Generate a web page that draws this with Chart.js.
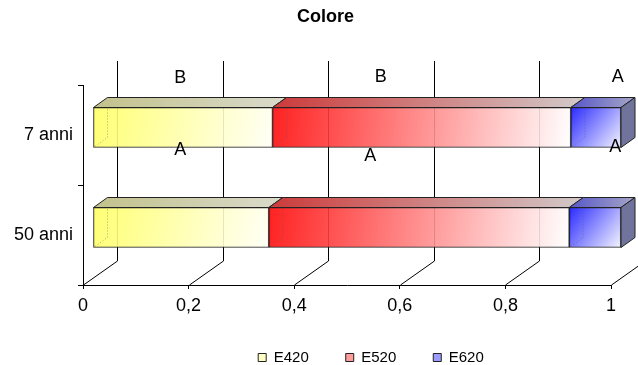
<!DOCTYPE html>
<html lang="it">
<head>
    <meta charset="UTF-8">
    <title>Colore</title>
    <script src="https://cdn.jsdelivr.net/npm/chart.js"></script>
    <style>
        body { margin: 0; background: #fff; }
        .container { width: 638px; height: 365px; }
    </style>
</head>
<body>
<div class="container">
    <canvas id="coloreChart"></canvas>
</div>

<script>
    const categories = ['7 anni', '50 anni'];
    const seriesNames = ['E420', 'E520', 'E620'];
    const e420 = [0.34, 0.333];
    const e520 = [0.565, 0.569];
    const e620 = [0.095, 0.098];
    const xTicks = [0, 0.2, 0.4, 0.6, 0.8, 1];
    // significance letters, one per series
    const letters7 = ['B', 'B', 'A'];
    const letters50 = ['A', 'A', 'A'];

    const FONT = '"Liberation Sans", Arial, sans-serif';
    const FLOOR = { dx: 34, dy: -24 };     // depth of the floor / back wall
    const SHIFT = { dx: 10, dy: -7.5 };    // bars sit a bit behind the front edge
    const BAR = { dx: 14, dy: -10 };       // depth of each bar box

    const faceColors = [
        ['rgba(255,255,100,0.9)', 'rgba(255,255,246,0.9)'],
        ['rgba(255,10,10,0.9)', 'rgba(255,255,255,0.9)'],
        ['rgba(20,20,255,0.9)', 'rgba(244,244,255,0.9)']
    ];
    const topColors = [
        ['#c2c28c', '#dadacc'],
        ['#cc3a3a', '#d2caca'],
        ['#5656c8', '#a6a6c8']
    ];
    const legendFill = ['#ffffc4', '#ff9c9c', '#9c9cff'];

    // diagonal gradient over the front face of one stacked segment
    function faceFill(c) {
        const chart = c.chart;
        const i = c.datasetIndex;
        if (!chart.chartArea || c.dataIndex === undefined) return legendFill[i];
        const x = chart.scales.x, y = chart.scales.y;
        const sets = chart.data.datasets;
        let start = 0;
        for (let k = 0; k < i; k++) start += sets[k].data[c.dataIndex];
        const x0 = x.getPixelForValue(start);
        const x1 = x.getPixelForValue(start + sets[i].data[c.dataIndex]);
        const yc = y.getPixelForValue(c.dataIndex);
        const g = chart.ctx.createLinearGradient(x0, yc - 20, x1, yc + 20);
        g.addColorStop(0, faceColors[i][0]);
        g.addColorStop(1, faceColors[i][1]);
        return g;
    }

    const depthPlugin = {
        id: 'depth3d',
        afterLayout(chart) {
            chart.titleBlock.left += 20;
            chart.titleBlock.right += 20;
            chart.legend.left += 65.5;
            chart.legend.right += 65.5;
            // legend box grows upwards so the labels stay inside its clip
            chart.legend.top -= 32;
        },
        beforeDatasetsDraw(chart) {
            const { ctx, chartArea: a, scales: { x } } = chart;
            ctx.save();
            ctx.strokeStyle = '#000';
            ctx.lineWidth = 1;
            ctx.beginPath();
            x.ticks.forEach(t => {
                const px = Math.round(x.getPixelForValue(t.value)) + 0.5;
                ctx.moveTo(px, a.bottom);
                ctx.lineTo(px + FLOOR.dx, a.bottom + FLOOR.dy);
                ctx.lineTo(px + FLOOR.dx, a.top + FLOOR.dy);
            });
            ctx.stroke();
            ctx.restore();
            // bars are drawn shifted into depth
            ctx.save();
            ctx.translate(SHIFT.dx, SHIFT.dy);
        },
        afterDatasetsDraw(chart) {
            const ctx = chart.ctx;
            const last = chart.data.datasets.length - 1;
            chart.data.datasets.forEach((ds, i) => {
                chart.getDatasetMeta(i).data.forEach(bar => {
                    const { x, y, base, height } = bar.getProps(['x', 'y', 'base', 'height'], true);
                    const top = y - height / 2, bottom = y + height / 2;

                    // hidden back edges
                    ctx.save();
                    ctx.strokeStyle = 'rgba(90,90,90,0.5)';
                    ctx.setLineDash([1, 2]);
                    ctx.beginPath();
                    ctx.moveTo(base + BAR.dx, top + BAR.dy);
                    ctx.lineTo(base + BAR.dx, bottom + BAR.dy);
                    ctx.lineTo(base, bottom);
                    ctx.stroke();
                    ctx.restore();

                    // top face
                    const g = ctx.createLinearGradient(base, 0, x + BAR.dx, 0);
                    g.addColorStop(0, topColors[i][0]);
                    g.addColorStop(1, topColors[i][1]);
                    ctx.beginPath();
                    ctx.moveTo(base, top);
                    ctx.lineTo(x, top);
                    ctx.lineTo(x + BAR.dx, top + BAR.dy);
                    ctx.lineTo(base + BAR.dx, top + BAR.dy);
                    ctx.closePath();
                    ctx.fillStyle = g;
                    ctx.fill();
                    ctx.strokeStyle = '#222';
                    ctx.lineWidth = 1;
                    ctx.stroke();

                    // right side of the stack
                    if (i === last) {
                        ctx.beginPath();
                        ctx.moveTo(x, top);
                        ctx.lineTo(x + BAR.dx, top + BAR.dy);
                        ctx.lineTo(x + BAR.dx, bottom + BAR.dy);
                        ctx.lineTo(x, bottom);
                        ctx.closePath();
                        ctx.fillStyle = '#70749c';
                        ctx.fill();
                        ctx.stroke();
                    }
                });
            });
            ctx.restore();
        },
        afterDraw(chart) {
            const { ctx, scales: { x, y } } = chart;
            // [axis value, offset from the category centre]
            const spots = [
                [[0.184, -57], [0.564, -58], [1.013, -58]],
                [[0.184, -85], [0.544, -79], [1.008, -88]]
            ];
            const rows = [letters7, letters50];
            ctx.save();
            ctx.font = '18px ' + FONT;
            ctx.fillStyle = '#000';
            ctx.textAlign = 'center';
            ctx.textBaseline = 'middle';
            rows.forEach((row, j) => {
                const yc = y.getPixelForValue(j);
                row.forEach((txt, i) => {
                    ctx.fillText(txt, x.getPixelForValue(spots[j][i][0]), yc + spots[j][i][1]);
                });
            });
            ctx.restore();
        }
    };

    const ctx = document.getElementById('coloreChart').getContext('2d');
    const chart = new Chart(ctx, {
        type: 'bar',
        data: {
            labels: categories,
            datasets: [e420, e520, e620].map((values, i) => ({
                label: seriesNames[i],
                data: values,
                backgroundColor: faceFill,
                borderColor: '#222',
                borderWidth: 1,
                borderSkipped: false,
                barThickness: 40,
                clip: false
            }))
        },
        options: {
            indexAxis: 'y',
            locale: 'it-IT',
            responsive: true,
            maintainAspectRatio: false,
            animation: false,
            layout: { padding: { left: 0, right: 27, top: 0, bottom: 0 } },
            scales: {
                x: {
                    stacked: true,
                    min: 0,
                    max: 1,
                    afterBuildTicks: scale => { scale.ticks = xTicks.map(v => ({ value: v })); },
                    afterFit: scale => { scale.height = 60; },
                    grid: { drawOnChartArea: false, tickLength: 4, color: '#000' },
                    border: { color: '#000' },
                    ticks: {
                        color: '#000',
                        padding: 6,
                        maxRotation: 0,
                        font: { family: FONT, size: 18 },
                        callback: v => v.toLocaleString('it-IT')
                    }
                },
                y: {
                    stacked: true,
                    afterFit: scale => { scale.width = 83; },
                    grid: { drawOnChartArea: false, tickLength: 5, color: '#000' },
                    border: { color: '#000' },
                    ticks: { color: '#000', padding: 5, font: { family: FONT, size: 18 } }
                }
            },
            plugins: {
                title: {
                    display: true,
                    text: 'Colore',
                    color: '#000',
                    font: { family: FONT, size: 18, weight: 'bold' },
                    padding: { top: 6, bottom: 57.4 }
                },
                legend: {
                    position: 'bottom',
                    maxHeight: 20,
                    labels: {
                        color: '#000',
                        font: { family: FONT, size: 15 },
                        boxWidth: 8,
                        boxHeight: 8,
                        padding: 37,
                        generateLabels: c => Chart.defaults.plugins.legend.labels.generateLabels(c)
                            .map((item, i) => Object.assign(item, {
                                fillStyle: legendFill[i], strokeStyle: '#222', lineWidth: 1
                            }))
                    }
                },
                tooltip: { enabled: false }
            }
        },
        plugins: [depthPlugin]
    });
</script>
</body>
</html>
